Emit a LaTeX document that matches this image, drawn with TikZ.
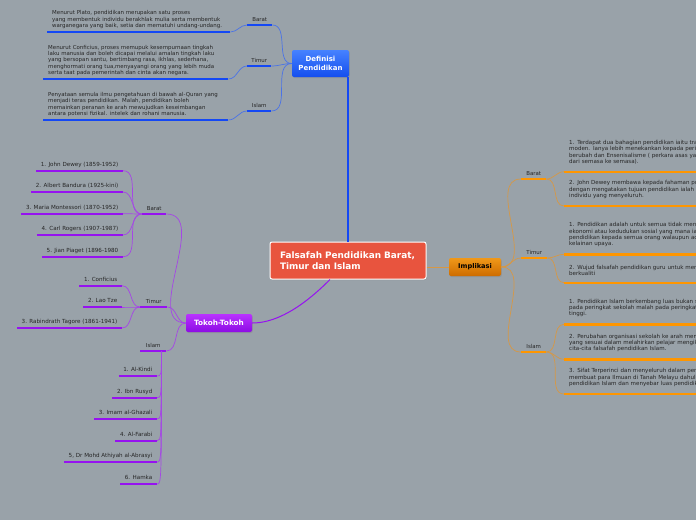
\documentclass[tikz,border=0pt]{standalone}
\usepackage{fontspec}
\setmainfont{DejaVu Sans}
\usetikzlibrary{calc,shadows}
\definecolor{bg}{RGB}{153,162,169}
\definecolor{tgray}{RGB}{38,38,38}
\definecolor{blueU}{RGB}{20,72,245}
\definecolor{blueC}{RGB}{75,115,230}
\definecolor{blueTop}{RGB}{70,130,255}
\definecolor{blueBot}{RGB}{20,78,238}
\definecolor{redN}{RGB}{232,84,62}
\definecolor{purU}{RGB}{150,18,240}
\definecolor{purC}{RGB}{165,70,230}
\definecolor{purTop}{RGB}{185,50,255}
\definecolor{purBot}{RGB}{140,12,228}
\definecolor{oraU}{RGB}{255,150,0}
\definecolor{oraC}{RGB}{214,152,70}
\definecolor{oraTop}{RGB}{240,152,25}
\definecolor{oraBot}{RGB}{205,108,0}
\begin{document}
\begin{tikzpicture}[x=1pt,y=-1pt,
  txt/.style={font=\fontsize{5.45}{6.4}\selectfont, text=tgray},
  ulab/.style={txt, inner xsep=0pt, inner ysep=3pt, text depth=0.8pt, anchor=south west},
  itemR/.style={txt, font=\fontsize{5.6}{6.4}\selectfont, inner xsep=4.5pt, inner ysep=2.5pt, text depth=1.5pt, anchor=south east},
  blockL/.style={txt, align=left, inner xsep=5pt, inner ysep=3pt, anchor=south west},
  blockR/.style={txt, font=\fontsize{5.55}{6.4}\selectfont, align=left, inner xsep=5pt, inner ysep=7pt, text width=200pt, anchor=south west},
  shad/.style={drop shadow={opacity=0.35,shadow xshift=0.8pt,shadow yshift=-1pt}},
  bul/.style={line width=2pt, blueU},
  pul/.style={line width=2pt, purU},
  oul/.style={line width=2.4pt, oraU},
  bcon/.style={line width=0.7pt, blueC},
  pcon/.style={line width=0.7pt, purC},
  ocon/.style={line width=0.7pt, oraC},
  mainN/.style={draw=white, line width=1pt, fill=redN, rounded corners=2pt, shad,
    text width=136pt, inner xsep=10pt, minimum height=37pt, align=left,
    font=\bfseries\fontsize{8.9}{11.6}\selectfont, text=white},
  topicN/.style={rounded corners=2pt, shad, align=center, inner sep=0pt,
    font=\bfseries\fontsize{7}{8.3}\selectfont}
]
\fill[bg] (0,0) rectangle (696,520);
\useasboundingbox (0,0) rectangle (696,520);

% ---------- main and topic nodes ----------
\node[mainN] (main) at (348,260.5) {Falsafah Pendidikan Barat,\\Timur dan Islam};
\node[topicN, top color=blueTop, bottom color=blueBot, text=white,
  minimum width=57pt, minimum height=27pt] (def) at (320.5,63.5) {Definisi\\Pendidikan};
\node[topicN, top color=purTop, bottom color=purBot, text=white,
  minimum width=66pt, minimum height=18pt, font=\bfseries\fontsize{7.3}{8.5}\selectfont] (tok) at (219,323) {Tokoh-Tokoh};
\node[topicN, top color=oraTop, bottom color=oraBot, text=black,
  minimum width=52pt, minimum height=18pt, font=\bfseries\fontsize{6.6}{8}\selectfont] (imp) at (475,267) {Implikasi};

% main connectors
\coordinate (dv) at ($(def.south east)+(-1,0)$);
\draw[line width=1.6pt, blueU] (dv) -- (dv |- main.north);
\draw[line width=1pt, purU] (tok.east) .. controls +(32,0) and +(-15,15) .. ($(main.south)+(-18,0)$);
\draw[ocon, line width=0.9pt] (main.east |- imp.west) -- (imp.west);

% ---------- Definisi Pendidikan ----------
\node[ulab, minimum width=25pt] (dB) at (247,25) {Barat};
\node[ulab, minimum width=24pt] (dT) at (247,66) {Timur};
\node[ulab, minimum width=24pt] (dI) at (247,111) {Islam};
\node[blockL, text width=173pt] (dBt) at (47,32) {Menurut Plato, pendidikan merupakan satu proses\\yang membentuk individu berakhlak mulia serta membentuk\\warganegara yang baik, setia dan mematuhi undang-undang.};
\node[blockL, text width=175pt] (dTt) at (43,79) {Menurut Conficius, proses memupuk kesempurnaan tingkah\\laku manusia dan boleh dicapai melalui amalan tingkah laku\\yang bersopan santu, bertimbang rasa, ikhlas, sederhana,\\menghormati orang tua,menyayangi orang yang lebih muda\\serta taat pada pemerintah dan cinta akan negara.};
\node[blockL, text width=175pt] (dIt) at (43,120) {Penyataan semula ilmu pengetahuan di bawah al-Quran yang\\menjadi teras pendidikan. Malah, pendidikan boleh\\memainkan peranan ke arah mewujudkan keseimbangan\\antara potensi fizikal. intelek dan rohani manusia.};
\foreach \n in {dB,dT,dI,dBt,dTt,dIt} \draw[bul] (\n.south west) -- (\n.south east);
\foreach \n in {dB,dT,dI} \draw[bcon] (def.west) to[out=180,in=0] (\n.south east);
\draw[bcon] (dB.south west) to[out=180,in=0] (dBt.south east);
\draw[bcon] (dT.south west) to[out=180,in=0] (dTt.south east);
\draw[bcon] (dI.south west) to[out=180,in=0] (dIt.south east);

% ---------- Tokoh-Tokoh ----------
\node[ulab, minimum width=24pt] (tB) at (142,214) {Barat};
\node[ulab, minimum width=27pt] (tT) at (140,307) {Timur};
\node[ulab, minimum width=26pt] (tI) at (140,351) {Islam};
\foreach \n in {tB,tT,tI} {
  \draw[pul] (\n.south west) -- (\n.south east);
  \draw[pcon] (tok.west) to[out=180,in=0] (\n.south east);
}
% Barat
\node[itemR] (tb1) at (123,170.7) {1. John Dewey (1859-1952)};
\node[itemR] (tb2) at (123,192) {2. Albert Bandura (1925-kini)};
\node[itemR] (tb3) at (123,213.7) {3. Maria Montessori (1870-1952)};
\node[itemR] (tb4) at (123,235) {4. Carl Rogers (1907-1987)};
\node[itemR] (tb5) at (123,256.7) {5. Jian Piaget (1896-1980};
\foreach \n in {tb1,tb2,tb3,tb4,tb5} {
  \draw[pul] (\n.south west) -- (\n.south east);
  \draw[pcon] (tB.south west) to[out=180,in=0] (\n.south east);
}
% Timur
\node[itemR] (tt1) at (122,285.7) {1. Conficius};
\node[itemR] (tt2) at (122,307) {2. Lao Tze};
\node[itemR] (tt3) at (122,328) {3. Rabindrath Tagore (1861-1941)};
\foreach \n in {tt1,tt2,tt3} {
  \draw[pul] (\n.south west) -- (\n.south east);
  \draw[pcon] (tT.south west) to[out=180,in=0] (\n.south east);
}
% Islam
\node[itemR] (ti1) at (157,376) {1. Al-Kindi};
\node[itemR] (ti2) at (157,397.7) {2. Ibn Rusyd};
\node[itemR] (ti3) at (157,419) {3. Imam al-Ghazali};
\node[itemR] (ti4) at (157,440.7) {4. Al-Farabi};
\node[itemR] (ti5) at (157,462) {5, Dr Mohd Athiyah al-Abrasyi};
\node[itemR] (ti6) at (157,484) {6. Hamka};
\coordinate (tIv) at ($(tI.south east)+(-5,0)$);
\foreach \n in {ti1,ti2,ti3,ti4,ti5,ti6} {
  \draw[pul] (\n.south west) -- (\n.south east);
  \draw[pcon] (tIv) .. controls (tIv |- \n.south east) .. (\n.south east);
}

% ---------- Implikasi ----------
\node[ulab, minimum width=25pt] (iB) at (521,179) {Barat};
\node[ulab, minimum width=26pt] (iT) at (521,258) {Timur};
\node[ulab, minimum width=25pt] (iI) at (521,352) {Islam};
\foreach \n in {iB,iT,iI} {
  \draw[oul] (\n.south west) -- (\n.south east);
  \draw[ocon] (imp.east) to[out=0,in=180] (\n.south west);
}
\node[blockR] (iB1) at (564,171.7) {1. Terdapat dua bahagian pendidikan iaitu tra\\moden. Ianya lebih menekankan kepada peri\\berubah dan Ensenisalisme ( perkara asas ya\\dari semasa ke semasa).};
\node[blockR] (iB2) at (564,206) {2. John Dewey membawa kepada fahaman pr\\dengan mengatakan tujuan pendidikan ialah u\\individu yang menyeluruh.};
\node[blockR] (iT1) at (564,254.3) {1. Pendidikan adalah untuk semua tidak men\\ekonomi atau kedudukan sosial yang mana ia\\pendidikan kepada semua orang walaupun ac\\kelainan upaya.};
\node[blockR] (iT2) at (564,282.7) {2. Wujud falsafah pendidikan guru untuk men\\berkualiti};
\node[blockR] (iI1) at (564,324.3) {1. Pendidikan Islam berkembang luas bukan s\\pada peringkat sekolah malah pada peringkat\\tinggi.};
\node[blockR] (iI2) at (564,359.3) {2. Perubahan organisasi sekolah ke arah mem\\yang sesuai dalam melahirkan pelajar mengik\\cita-cita falsafah pendidikan Islam.};
\node[blockR] (iI3) at (564,394) {3. Sifat Terperinci dan menyeluruh dalam pen\\membuat para Ilmuan di Tanah Melayu dahulu\\pendidikan Islam dan menyebar luas pendidik};
\foreach \n in {iB1,iB2,iT1,iT2,iI1,iI2,iI3} \draw[oul] (\n.south west) -- (\n.south east);
\foreach \n in {iB1,iB2} \draw[ocon] (iB.south east) to[out=0,in=180] (\n.south west);
\foreach \n in {iT1,iT2} \draw[ocon] (iT.south east) to[out=0,in=180] (\n.south west);
\foreach \n in {iI1,iI2,iI3} \draw[ocon] (iI.south east) to[out=0,in=180] (\n.south west);
\end{tikzpicture}
\end{document}
